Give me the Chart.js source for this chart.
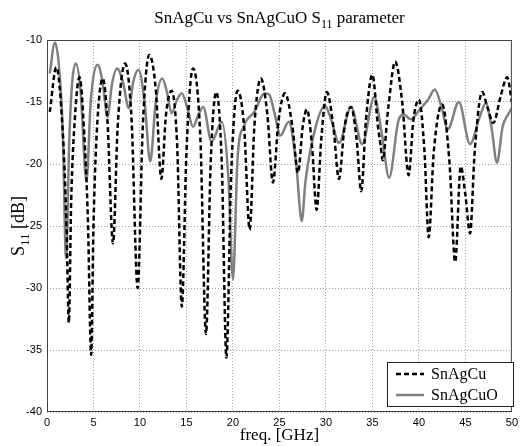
<!DOCTYPE html>
<html>
<head>
<meta charset="utf-8">
<script src="https://cdn.jsdelivr.net/npm/chart.js@4"></script>
<style>
  html, body { margin: 0; padding: 0; background: #fff; }
  #wrap { width: 522px; height: 446px; }
</style>
</head>
<body>
<div id="wrap"><canvas id="s11-chart" width="522" height="446"></canvas></div>
<script>
// SnAgCu (dashed black)
const cuFreq = [0.3, 1.0, 1.7, 2.1, 2.35, 2.6, 3.0, 3.5, 4.0, 4.4, 4.75, 5.0, 5.35, 6.0, 6.5, 7.1, 7.6, 8.4, 9.1, 9.75, 10.3, 11.0,
  11.7, 12.3, 12.8, 13.4, 14.0, 14.5, 15.0, 15.7, 16.5, 17.1, 17.6, 18.2, 18.8, 19.3, 19.8, 20.5, 21.2, 21.8, 22.3, 23.0,
  23.7, 24.3, 24.9, 25.6, 26.4, 27.0, 27.5, 27.95, 28.5, 29.0, 29.5, 30.1, 30.8, 31.4, 32.0, 32.7, 33.3, 33.8, 34.3, 35.0,
  35.6, 35.9, 36.1, 36.7, 37.45, 38.2, 38.9, 39.4, 40.0, 40.6, 41.05, 41.6, 42.5, 43.3, 43.9, 44.5, 45.0, 45.5, 46.0, 46.8,
  47.4, 48.0, 48.8, 49.5, 50.0];
const cuS11 = [-15.8, -12.2, -17.5, -25.0, -32.8, -23.0, -16.3, -13.0, -17.5, -24.5, -35.4, -25.0, -17.5, -13.1, -16.5, -26.4, -17.0, -11.9, -16.5, -30.0, -17.0, -11.2,
  -14.0, -21.2, -16.0, -14.1, -18.5, -31.5, -19.0, -12.3, -18.0, -33.7, -20.0, -14.2, -20.0, -35.6, -21.0, -14.1, -17.0, -25.3, -17.0, -13.1,
  -16.0, -21.5, -16.5, -14.3, -17.0, -20.7, -17.0, -15.6, -18.5, -23.7, -18.0, -14.2, -17.0, -21.2, -17.0, -15.4, -18.0, -22.2, -16.5, -12.8,
  -17.0, -18.6, -19.7, -15.5, -11.75, -15.0, -20.9, -16.5, -14.8, -19.0, -25.9, -19.0, -15.2, -20.0, -27.9, -20.2, -22.5, -25.6, -19.0, -14.2,
  -15.5, -16.7, -14.5, -13.0, -15.0];

// SnAgCuO (solid grey)
const cuoFreq = [0.3, 0.85, 1.3, 1.7, 2.05, 2.4, 2.7, 3.1, 3.6, 4.25, 4.7, 5.45, 6.0, 6.5, 7.0, 7.55, 8.2, 8.8, 9.3, 9.85, 10.5, 11.1,
  11.7, 12.4, 12.9, 13.4, 14.0, 14.5, 15.1, 15.7, 16.3, 16.8, 17.7, 18.8, 19.5, 20.0, 20.5, 21.2, 22.3, 23.4, 23.9, 24.5,
  25.1, 26.0, 26.8, 27.4, 27.8, 28.9, 29.9, 30.6, 31.4, 32.7, 33.9, 35.2, 36.0, 36.8, 37.8, 38.4, 39.1, 40.1, 41.0, 41.7,
  42.4, 43.1, 44.3, 45.5, 46.5, 47.2, 47.8, 48.4, 49.0, 49.6, 50.0];
const cuoS11 = [-12.7, -10.2, -12.2, -17.5, -27.6, -18.0, -13.5, -11.9, -14.0, -21.4, -15.0, -12.0, -13.5, -16.2, -13.5, -12.3, -13.5, -15.5, -13.3, -12.4, -15.0, -19.8,
  -15.0, -13.1, -14.2, -15.9, -14.8, -14.3, -15.5, -17.0, -16.0, -15.4, -18.2, -16.6, -21.0, -29.3, -19.5, -16.9, -15.8, -14.3, -14.4, -16.0,
  -17.7, -16.6, -20.0, -24.6, -21.4, -17.0, -15.3, -16.5, -18.3, -15.4, -18.4, -14.6, -17.5, -21.1, -16.5, -16.0, -16.4, -15.6, -14.8, -14.0,
  -15.3, -17.2, -15.0, -18.4, -16.3, -15.1, -17.0, -19.9, -17.0, -16.0, -15.5];

const xTicks = [0, 5, 10, 15, 20, 25, 30, 35, 40, 45, 50];
const yTicks = [-40, -35, -30, -25, -20, -15, -10];

const serif = '"Liberation Serif", "Times New Roman", serif';
const sans = '"Liberation Sans", Arial, sans-serif';

function pts(xs, ys) {
  return xs.map((x, i) => ({ x: x, y: ys[i] }));
}

// text with subscript, drawn left to right from x
function subText(ctx, parts, x, y, size) {
  parts.forEach(p => {
    const fs = p.sub ? Math.round(size * 0.72) : size;
    ctx.font = fs + 'px ' + serif;
    ctx.fillText(p.t, x, p.sub ? y + size * 0.3 : y);
    x += ctx.measureText(p.t).width;
  });
}
function subWidth(ctx, parts, size) {
  let w = 0;
  parts.forEach(p => {
    ctx.font = (p.sub ? Math.round(size * 0.72) : size) + 'px ' + serif;
    w += ctx.measureText(p.t).width;
  });
  return w;
}

const decor = {
  id: 'decor',
  afterDraw(chart) {
    const ctx = chart.ctx, a = chart.chartArea;
    ctx.save();
    // frame
    ctx.strokeStyle = '#444';
    ctx.lineWidth = 1;
    ctx.strokeRect(a.left + 0.5, a.top + 0.5, a.right - a.left - 1, a.bottom - a.top - 1);

    ctx.fillStyle = '#000';
    ctx.textBaseline = 'alphabetic';
    const cx = (a.left + a.right) / 2;
    // title
    const title = [{ t: 'SnAgCu vs SnAgCuO S' }, { t: '11', sub: true }, { t: ' parameter' }];
    subText(ctx, title, cx - subWidth(ctx, title, 17) / 2, 23, 17);
    // x label
    ctx.font = '17px ' + serif;
    ctx.textAlign = 'center';
    ctx.fillText('freq. [GHz]', cx, 440);
    ctx.textAlign = 'left';
    // y label
    const ylab = [{ t: 'S' }, { t: '11', sub: true }, { t: ' [dB]' }];
    ctx.save();
    ctx.translate(24, (a.top + a.bottom) / 2);
    ctx.rotate(-Math.PI / 2);
    subText(ctx, ylab, -subWidth(ctx, ylab, 18) / 2, 0, 18);
    ctx.restore();

    // legend box
    const bx = 387, by = 362, bw = 126, bh = 44;
    ctx.fillStyle = '#fff';
    ctx.fillRect(bx, by, bw, bh);
    ctx.strokeStyle = '#222';
    ctx.strokeRect(bx + 0.5, by + 0.5, bw, bh);
    chart.data.datasets.forEach((ds, i) => {
      const ly = by + 12 + i * 21;
      ctx.strokeStyle = ds.borderColor;
      ctx.lineWidth = ds.borderWidth;
      ctx.setLineDash(ds.borderDash || []);
      ctx.beginPath();
      ctx.moveTo(bx + 9, ly);
      ctx.lineTo(bx + 37, ly);
      ctx.stroke();
      ctx.setLineDash([]);
      ctx.fillStyle = '#000';
      ctx.font = '16px ' + serif;
      ctx.fillText(ds.label, bx + 44, ly + 5);
    });
    ctx.restore();
  }
};

new Chart(document.getElementById('s11-chart'), {
  type: 'line',
  data: {
    datasets: [
      {
        label: 'SnAgCu',
        data: pts(cuFreq, cuS11),
        borderColor: '#000',
        borderWidth: 2.5,
        borderDash: [5, 3],
        pointRadius: 0,
        cubicInterpolationMode: 'monotone',
        fill: false
      },
      {
        label: 'SnAgCuO',
        data: pts(cuoFreq, cuoS11),
        borderColor: '#808080',
        borderWidth: 2.5,
        pointRadius: 0,
        cubicInterpolationMode: 'monotone',
        fill: false
      }
    ]
  },
  options: {
    responsive: false,
    animation: false,
    layout: { padding: { left: 0, right: 5, top: 40, bottom: 0 } },
    plugins: {
      legend: { display: false },
      title: { display: false },
      tooltip: { enabled: false }
    },
    scales: {
      x: {
        type: 'linear',
        min: 0, max: 50,
        afterBuildTicks: s => { s.ticks = xTicks.map(v => ({ value: v })); },
        afterFit: s => { s.height = 34; },
        grid: { color: '#a0a0a0', drawTicks: false },
        border: { display: false, dash: [1, 2] },
        ticks: { color: '#000', padding: 4, maxRotation: 0, font: { family: sans, size: 11 } }
      },
      y: {
        min: -40, max: -10,
        afterBuildTicks: s => { s.ticks = yTicks.map(v => ({ value: v })); },
        afterFit: s => { s.width = 47; },
        grid: { color: '#a0a0a0', drawTicks: false },
        border: { display: false, dash: [1, 2] },
        ticks: { color: '#000', padding: 5, font: { family: sans, size: 11 } }
      }
    }
  },
  plugins: [decor]
});
</script>
</body>
</html>
